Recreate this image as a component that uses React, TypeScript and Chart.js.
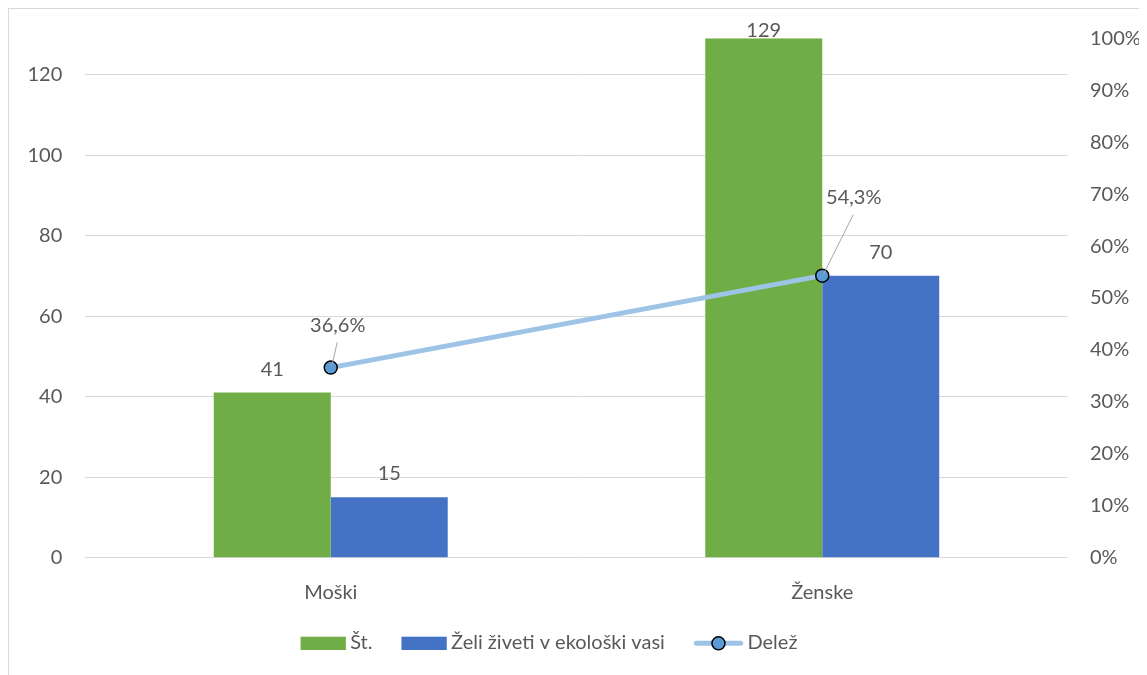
import React, { useEffect, useRef } from 'react';
import { Chart, registerables } from 'chart.js';

Chart.register(...registerables);

// Data
const categories = ['Moški', 'Ženske'];
const countValues = [41, 129];
const wantValues = [15, 70];
const shareValues = [0.366, 0.543];
const leftTicks = [0, 20, 40, 60, 80, 100, 120];
const seriesNames = ['Št.', 'Želi živeti v ekološki vasi', 'Delež'];

// Styling
const TEXT = '#595959';
const GRID = '#D9D9D9';
const GREEN = '#70AD47';
const BLUE = '#4472C4';
const LINE = '#9DC3E6';
const MARKER = '#5B9BD5';
const FONT = "Lato, 'Open Sans', sans-serif";
const FONT_SIZE = 20;

const W = 1138;
const H = 666;

const fmtPct = (v: number, digits: number) => (v * 100).toFixed(digits).replace('.', ',') + '%';

// Value labels above bars and share labels with leader lines
const valueLabels = {
  id: 'valueLabels',
  afterDatasetsDraw(chart: any) {
    const ctx = chart.ctx;
    ctx.save();
    ctx.font = `${FONT_SIZE}px ${FONT}`;
    ctx.fillStyle = TEXT;
    ctx.textAlign = 'center';
    ctx.textBaseline = 'alphabetic';
    [0, 1].forEach((di) => {
      const meta = chart.getDatasetMeta(di);
      const data = chart.data.datasets[di].data;
      meta.data.forEach((el: any, i: number) => {
        const y = Math.max(el.y - 17, 28);
        ctx.fillText(String(data[i]), el.x, y);
      });
    });
    const lineMeta = chart.getDatasetMeta(2);
    const offsets = [
      [7, -36],
      [31.5, -71.5],
    ];
    lineMeta.data.forEach((el: any, i: number) => {
      const [dx, dy] = offsets[i];
      const lx = el.x + dx;
      const ly = el.y + dy;
      ctx.strokeStyle = '#A6A6A6';
      ctx.lineWidth = 1;
      ctx.beginPath();
      ctx.moveTo(lx - 0.5, ly + 10.5);
      ctx.lineTo(el.x + 1, el.y - 1);
      ctx.stroke();
      ctx.fillText(fmtPct(shareValues[i], 1), lx, ly);
    });
    ctx.restore();
  },
};

// Legend row under the axis, centred on a fixed line
const legendRow = {
  id: 'legendRow',
  afterDraw(chart: any) {
    const ctx = chart.ctx;
    ctx.save();
    ctx.font = `${FONT_SIZE}px ${FONT}`;
    ctx.textAlign = 'left';
    ctx.textBaseline = 'alphabetic';
    const boxTop = 627.7;
    const boxH = 13.3;
    const cy = boxTop + boxH / 2;
    const baseline = 640.3;
    const ds = chart.data.datasets;
    const symW = (d: any) => (d.type === 'line' ? 49.3 : 45.3);
    const gapText = 4.3;
    const gapItem = 29;
    let total = 0;
    ds.forEach((d: any, i: number) => {
      total += symW(d) + gapText + ctx.measureText(d.label).width;
      if (i < ds.length - 1) total += gapItem;
    });
    let x = 540 - total / 2;
    ds.forEach((d: any) => {
      if (d.type === 'line') {
        ctx.strokeStyle = LINE;
        ctx.lineWidth = 5;
        ctx.lineCap = 'round';
        ctx.beginPath();
        ctx.moveTo(x + 2.5, cy);
        ctx.lineTo(x + 46.8, cy);
        ctx.stroke();
        ctx.beginPath();
        ctx.arc(x + 24.6, cy, 6.5, 0, Math.PI * 2);
        ctx.fillStyle = MARKER;
        ctx.fill();
        ctx.lineWidth = 1.5;
        ctx.strokeStyle = '#000000';
        ctx.stroke();
      } else {
        ctx.fillStyle = d.backgroundColor;
        ctx.fillRect(x, boxTop, 45.3, boxH);
      }
      x += symW(d) + gapText;
      ctx.fillStyle = TEXT;
      ctx.fillText(d.label, x, baseline);
      x += ctx.measureText(d.label).width + gapItem;
    });
    ctx.restore();
  },
};

// Vertical axes keep the plot edge exactly where the layout puts it
const noScalePadding = (s: any) => {
  s.paddingTop = 0;
  s.paddingBottom = 0;
};

export default function App() {
  const canvasRef = useRef<HTMLCanvasElement | null>(null);

  useEffect(() => {
    document.documentElement.style.overflow = 'hidden';
    document.body.style.overflow = 'hidden';
    const canvas = canvasRef.current;
    if (!canvas) return;

    Chart.defaults.font.family = FONT;
    Chart.defaults.font.size = FONT_SIZE;
    Chart.defaults.color = TEXT;

    const chart = new Chart(canvas, {
      type: 'bar',
      data: {
        labels: categories,
        datasets: [
          {
            type: 'bar',
            label: seriesNames[0],
            data: countValues,
            backgroundColor: GREEN,
            yAxisID: 'y',
            order: 1,
            categoryPercentage: 0.476,
            barPercentage: 1,
          },
          {
            type: 'bar',
            label: seriesNames[1],
            data: wantValues,
            backgroundColor: BLUE,
            yAxisID: 'y',
            order: 1,
            categoryPercentage: 0.476,
            barPercentage: 1,
          },
          {
            type: 'line',
            label: seriesNames[2],
            data: shareValues,
            borderColor: LINE,
            borderWidth: 5,
            backgroundColor: MARKER,
            pointBackgroundColor: MARKER,
            pointBorderColor: '#000000',
            pointBorderWidth: 1.5,
            pointRadius: 6.5,
            yAxisID: 'y1',
            order: 0,
            tension: 0,
          } as any,
        ],
      },
      options: {
        responsive: false,
        animation: false,
        events: [],
        layout: { padding: { top: 29.3, left: 0, right: 0, bottom: 0 } },
        plugins: {
          legend: { display: false },
          tooltip: { enabled: false },
        },
        scales: {
          x: {
            grid: { display: false, drawTicks: false },
            border: { display: false },
            ticks: { padding: 23, color: TEXT, font: { size: FONT_SIZE, family: FONT } },
            afterFit: (s: any) => {
              s.height = 117.3;
            },
          },
          y: {
            position: 'left',
            min: 0,
            max: 129,
            grid: { color: GRID, lineWidth: 1, drawTicks: false },
            border: { display: false },
            ticks: { padding: 22.7, color: TEXT, font: { size: FONT_SIZE, family: FONT } },
            afterBuildTicks: (s: any) => {
              s.ticks = leftTicks.map((v) => ({ value: v }));
            },
            afterFit: (s: any) => {
              s.width = 76;
              noScalePadding(s);
            },
          },
          y1: {
            position: 'right',
            min: 0,
            max: 1,
            grid: { display: false, drawTicks: false },
            border: { display: false },
            ticks: {
              stepSize: 0.1,
              padding: 22,
              color: TEXT,
              font: { size: FONT_SIZE, family: FONT },
              callback: (v: any) => Math.round(Number(v) * 100) + '%',
            },
            afterFit: (s: any) => {
              s.width = 79;
              noScalePadding(s);
            },
          },
        },
      } as any,
      plugins: [valueLabels, legendRow],
    });

    return () => chart.destroy();
  }, []);

  return (
    <div
      style={{
        width: W,
        height: H,
        borderLeft: `1px solid ${GRID}`,
        borderTop: `1px solid ${GRID}`,
        background: '#ffffff',
      }}
    >
      <canvas ref={canvasRef} width={W} height={H} style={{ display: 'block', width: W, height: H }} />
    </div>
  );
}
